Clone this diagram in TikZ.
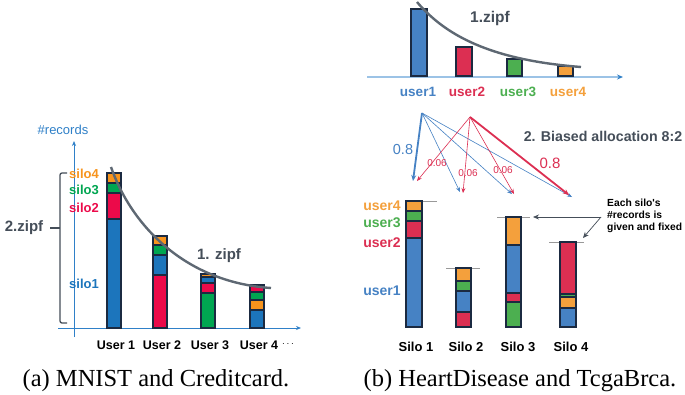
\documentclass[tikz,border=0pt]{standalone}
\usepackage{fontspec}
\setmainfont{Liberation Serif}
\newfontfamily\sff{Liberation Sans}
\usetikzlibrary{arrows.meta}
\definecolor{lblue}{HTML}{1C75BC}
\definecolor{lred}{HTML}{EC0A4A}
\definecolor{lgreen}{HTML}{00A651}
\definecolor{lorange}{HTML}{F7941D}
\definecolor{rblue}{HTML}{4682C4}
\definecolor{rred}{HTML}{DC2F52}
\definecolor{rgreen}{HTML}{4CAF50}
\definecolor{rorange}{HTML}{F4A03C}
\definecolor{navy}{HTML}{1B2A41}
\definecolor{dgray}{HTML}{454E59}
\definecolor{cgray}{HTML}{5E6873}
\definecolor{axblue}{HTML}{2F80C8}
\definecolor{axlight}{HTML}{9CC3E6}
\tikzset{
  seg/.style={draw=navy, line width=1.3pt},
  lbl/.style={font=\sff\bfseries\fontsize{13}{13}\selectfont, inner sep=0pt},
  captext/.style={font=\fontsize{24.5}{25}\selectfont, inner sep=0pt},
  zipfcurve/.style={draw=cgray, line width=2.4pt},
  topline/.style={draw=gray!80, line width=0.8pt},
  thinarr/.style={line width=0.6pt, -{Stealth[length=5pt,width=4pt]}},
  thickarr/.style={line width=1.8pt, -{Stealth[length=6pt,width=5pt]}},
}
\begin{document}
\begin{tikzpicture}[x=1pt,y=-1pt]
\useasboundingbox (0,0) rectangle (685,394);
\fill[white] (0,0) rectangle (685,394);

% ---------------- Left panel ----------------
\coordinate (yb) at (74,337);
\coordinate (yt) at (74,141);
\coordinate (xl) at (58,328);
\coordinate (xr) at (301,328);
\draw[axblue, line width=0.8pt, -{Stealth[length=5pt,width=4pt]}] (yb) -- (yt);
\draw[axblue, line width=0.8pt, -{Stealth[length=5pt,width=4pt]}] (xl) -- (xr);
\node[font=\sff\fontsize{13}{13}\selectfont, text=axblue, inner sep=0pt] (rec) at (63,130) {\#records};

% bar 1
\filldraw[seg, fill=lblue]   (107,219) rectangle (121,328);
\filldraw[seg, fill=lred]    (107,193) rectangle (121,219);
\filldraw[seg, fill=lgreen]  (107,183) rectangle (121,193);
\filldraw[seg, fill=lorange] (107,173) rectangle (121,183);
% bar 2
\filldraw[seg, fill=lred]    (153,275) rectangle (167,328);
\filldraw[seg, fill=lblue]   (153,255) rectangle (167,275);
\filldraw[seg, fill=lgreen]  (153,245) rectangle (167,255);
\filldraw[seg, fill=lorange] (153,236) rectangle (167,245);
% bar 3
\filldraw[seg, fill=lgreen]  (201,293) rectangle (215,328);
\filldraw[seg, fill=lred]    (201,283) rectangle (215,293);
\filldraw[seg, fill=lblue]   (201,277) rectangle (215,283);
\filldraw[seg, fill=lorange] (201,274) rectangle (215,277);
% bar 4
\filldraw[seg, fill=lblue]   (250,310) rectangle (264,328);
\filldraw[seg, fill=lorange] (250,300) rectangle (264,310);
\filldraw[seg, fill=lgreen]  (250,292) rectangle (264,300);
\filldraw[seg, fill=lred]    (250,285) rectangle (264,292);

\coordinate (lz0) at (111,167);
\coordinate (lz1) at (271,288);
\draw[zipfcurve] (lz0) .. controls (130,222) and (182,282) .. (lz1);
\node[lbl, text=dgray, font=\sff\bfseries\fontsize{15}{15}\selectfont] (z1a) at (219,256) {1. zipf};

% brace
\draw[dgray, line width=1.3pt, rounded corners=2pt] (67,173) -- (60,173) -- (60,323) -- (67,323);
\draw[dgray, line width=1.3pt] (50,228) -- (60,228);
\node[lbl, text=dgray, font=\sff\bfseries\fontsize{15}{15}\selectfont] (z2a) at (24,228) {2.zipf};

\node[lbl, text=lorange] (s4) at (84,174) {silo4};
\node[lbl, text=lgreen]  (s3) at (84,190) {silo3};
\node[lbl, text=lred]    (s2) at (84,208) {silo2};
\node[lbl, text=lblue]   (s1) at (84,284) {silo1};

\node[lbl, font=\sff\bfseries\fontsize{12.5}{12.5}\selectfont] (u1) at (116,345) {User 1};
\node[lbl, font=\sff\bfseries\fontsize{12.5}{12.5}\selectfont] (u2) at (162,345) {User 2};
\node[lbl, font=\sff\bfseries\fontsize{12.5}{12.5}\selectfont] (u3) at (210,345) {User 3};
\node[lbl, font=\sff\bfseries\fontsize{12.5}{12.5}\selectfont] (u4) at (259,345) {User 4};
\node[inner sep=0pt] (dots) at (288,344) {$\cdots$};

% ---------------- Right panel ----------------
\coordinate (ral) at (367,77);
\coordinate (rar) at (623,77);
\draw[axlight, line width=1.5pt, -{Stealth[length=6pt,width=5pt,color=axblue]}] (ral) -- (rar);

\filldraw[seg, fill=rblue]   (411,9)  rectangle (427,76);
\filldraw[seg, fill=rred]    (456,47) rectangle (472,76);
\filldraw[seg, fill=rgreen]  (507,59) rectangle (522,76);
\filldraw[seg, fill=rorange] (558,66) rectangle (573,76);

\coordinate (rz0) at (417,2);
\coordinate (rz1) at (581,67);
\draw[zipfcurve] (rz0) .. controls (445,35) and (490,60) .. (rz1);
\node[lbl, text=dgray, font=\sff\bfseries\fontsize{15.5}{15.5}\selectfont] (z1b) at (490,18) {1.zipf};

\node[lbl, text=rblue,   font=\sff\bfseries\fontsize{13.5}{13.5}\selectfont] (tu1) at (418,92) {user1};
\node[lbl, text=rred,    font=\sff\bfseries\fontsize{13.5}{13.5}\selectfont] (tu2) at (467,92) {user2};
\node[lbl, text=rgreen,  font=\sff\bfseries\fontsize{13.5}{13.5}\selectfont] (tu3) at (518,92) {user3};
\node[lbl, text=rorange, font=\sff\bfseries\fontsize{13.5}{13.5}\selectfont] (tu4) at (568,92) {user4};

% allocation arrows
\coordinate (src1) at (422,113);
\coordinate (src2) at (470,117);
\coordinate (b1) at (413,181);
\coordinate (b2) at (460,192);
\coordinate (b3) at (512,194);
\coordinate (b4) at (572,197);
\coordinate (r1) at (417,181);
\coordinate (r2) at (463,193);
\coordinate (r3) at (514,194);
\coordinate (r4) at (569,195);
\draw[rblue, thickarr] (src1) -- (b1);
\draw[rblue, thinarr] (src1) -- (b2);
\draw[rblue, thinarr] (src1) -- (b3);
\draw[rblue, thinarr] (src1) -- (b4);
\draw[rred, thinarr] (src2) -- (r1);
\draw[rred, thinarr] (src2) -- (r2);
\draw[rred, thinarr] (src2) -- (r3);
\draw[rred, thickarr] (src2) -- (r4);

\node[inner sep=0pt, text=rblue, font=\sff\fontsize{14.5}{14.5}\selectfont] (p1) at (403,150) {0.8};
\node[inner sep=0pt, text=rred, font=\sff\fontsize{10}{10}\selectfont] (p2) at (437,163) {0.06};
\node[inner sep=0pt, text=rred, font=\sff\fontsize{10}{10}\selectfont] (p3) at (468,173) {0.06};
\node[inner sep=0pt, text=rred, font=\sff\fontsize{10}{10}\selectfont] (p4) at (503,170) {0.06};
\node[inner sep=0pt, text=rred, font=\sff\fontsize{15}{15}\selectfont] (p5) at (550,163) {0.8};

\node[lbl, text=dgray, font=\sff\bfseries\fontsize{14.2}{14.2}\selectfont] (bias) at (603,136) {2. Biased allocation 8:2};

% silo top lines
\draw[topline] (406,201) -- (437,201);
\draw[topline] (446,268) -- (480,268);
\draw[topline] (497,217) -- (530,217);
\draw[topline] (549,242) -- (584,242);

% silo 1
\filldraw[seg, fill=rblue]   (406,238) rectangle (422,327);
\filldraw[seg, fill=rred]    (406,221) rectangle (422,238);
\filldraw[seg, fill=rgreen]  (406,211) rectangle (422,221);
\filldraw[seg, fill=rorange] (406,201) rectangle (422,211);
% silo 2
\filldraw[seg, fill=rred]    (456,312) rectangle (471,327);
\filldraw[seg, fill=rblue]   (456,291) rectangle (471,312);
\filldraw[seg, fill=rgreen]  (456,281) rectangle (471,291);
\filldraw[seg, fill=rorange] (456,268) rectangle (471,281);
% silo 3
\filldraw[seg, fill=rgreen]  (506,302) rectangle (521,327);
\filldraw[seg, fill=rred]    (506,293) rectangle (521,302);
\filldraw[seg, fill=rblue]   (506,245) rectangle (521,293);
\filldraw[seg, fill=rorange] (506,217) rectangle (521,245);
% silo 4
\filldraw[seg, fill=rblue]   (560,308) rectangle (576,327);
\filldraw[seg, fill=rorange] (560,297) rectangle (576,308);
\filldraw[seg, fill=rgreen]  (560,294) rectangle (576,297);
\filldraw[seg, fill=rred]    (560,242) rectangle (576,294);

\node[lbl, text=rorange, font=\sff\bfseries\fontsize{14}{14}\selectfont] (lu4) at (382,206) {user4};
\node[lbl, text=rgreen,  font=\sff\bfseries\fontsize{14}{14}\selectfont] (lu3) at (382,223) {user3};
\node[lbl, text=rred,    font=\sff\bfseries\fontsize{14}{14}\selectfont] (lu2) at (382,243) {user2};
\node[lbl, text=rblue,   font=\sff\bfseries\fontsize{14}{14}\selectfont] (lu1) at (382,291) {user1};

% annotation
\node[inner sep=0pt, anchor=west, align=left, font=\sff\bfseries\fontsize{10.3}{12}\selectfont] (note) at (607,216) {Each silo's\\\#records is\\given and fixed};
\coordinate (nsrc) at (601,217);
\coordinate (t3) at (533,217);
\coordinate (t4) at (583,238);
\draw[dgray, line width=0.7pt, -{Stealth[length=6pt,width=5pt]}] (nsrc) -- (t3);
\draw[dgray, line width=0.7pt, -{Stealth[length=6pt,width=5pt]}] (nsrc) -- (t4);

\node[lbl] (si1) at (416,347) {Silo 1};
\node[lbl] (si2) at (466,347) {Silo 2};
\node[lbl] (si3) at (518,347) {Silo 3};
\node[lbl] (si4) at (571,347) {Silo 4};

% captions
\node[captext] (capa) at (156,381) {(a) MNIST and Creditcard.};
\node[captext] (capb) at (520,381) {(b) HeartDisease and TcgaBrca.};
\end{tikzpicture}
\end{document}
